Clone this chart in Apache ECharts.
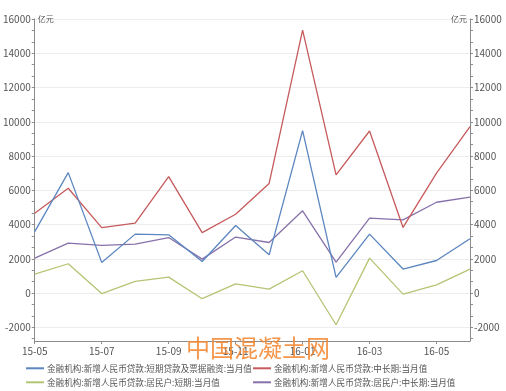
<!DOCTYPE html>
<html>
<head>
<meta charset="utf-8">
<script src="https://cdn.jsdelivr.net/npm/echarts@6/dist/echarts.min.js"></script>
<style>
html,body{margin:0;padding:0;background:#fff;}
#c{width:506px;height:391px;}
</style>
</head>
<body>
<div id="c"></div>
<script>
const months = ['15-05','15-06','15-07','15-08','15-09','15-10','15-11','15-12','16-01','16-02','16-03','16-04','16-05','16-06'];
const seriesNames = [
  '金融机构:新增人民币贷款:短期贷款及票据融资:当月值',
  '金融机构:新增人民币贷款:中长期:当月值',
  '金融机构:新增人民币贷款:居民户:短期:当月值',
  '金融机构:新增人民币贷款:居民户:中长期:当月值'
];
const shortTermBills = [3590, 7030, 1790, 3440, 3400, 1840, 3940, 2230, 9480, 910, 3440, 1400, 1900, 3170];
const midLongTerm = [4660, 6120, 3820, 4080, 6800, 3530, 4600, 6400, 15350, 6900, 9460, 3830, 7000, 9710];
const householdShort = [1100, 1710, -30, 680, 930, -330, 540, 230, 1300, -1850, 2040, -60, 480, 1400];
const householdMidLong = [2040, 2910, 2780, 2860, 3240, 1980, 3270, 2950, 4800, 1810, 4370, 4270, 5300, 5600];
const yMin = -2800, yMax = 16000, yStep = 400, labelStep = 2000, minorPerLabel = 3;
const unitName = '亿元';
const watermark = '中国混凝土网';

const colors = ['#5b86bf', '#c65a5c', '#b3c574', '#8671aa'];
const values = [shortTermBills, midLongTerm, householdShort, householdMidLong];

const chart = echarts.init(document.getElementById('c'), null, {renderer: 'canvas'});
const axisGray = '#8c8c8c';
const labelColor = '#555';
const fontFam = '"Noto Sans CJK SC", "DejaVu Sans", sans-serif';

// tick positions (ascending), every labelStep/minorPerLabel counted down from yMax
const tickValues = [];
for (let v = yMax; v >= yMin - 1e-6; v -= labelStep / minorPerLabel) tickValues.unshift(Math.round(v * 1000) / 1000);
const splitColors = tickValues.slice(0, minorPerLabel).map(v =>
  Math.abs(v % labelStep) < 1e-3 ? '#ececec' : 'rgba(0,0,0,0)');

function yLabel(v) {
  return (Math.abs(v % labelStep) < 1e-6) ? String(v) : '';
}
function yAxisOpt(pos) {
  return {
    type: 'value', position: pos, min: yMin, max: yMax, interval: yStep,
    name: unitName,
    nameLocation: 'end',
    nameGap: 2,
    nameTextStyle: {fontSize: 8, color: labelColor, fontFamily: fontFam, align: pos === 'left' ? 'left' : 'right', verticalAlign: 'bottom', padding: pos === 'left' ? [0,0,-6,3] : [0,3,-6,0]},
    axisLine: {show: true, onZero: false, lineStyle: {color: axisGray, width: 1}},
    axisTick: {show: true, customValues: tickValues, length: 3, lineStyle: {color: axisGray}},
    axisLabel: {formatter: yLabel, color: labelColor, fontSize: 10, fontFamily: fontFam, margin: 4},
    splitLine: {show: pos === 'left', lineStyle: {color: splitColors, width: 1}}
  };
}

const option = {
  backgroundColor: '#fff',
  animation: false,
  grid: {left: 33, right: 36, top: 19, bottom: 50, containLabel: false},
  xAxis: {
    type: 'category', data: months, boundaryGap: false,
    axisLine: {onZero: false, lineStyle: {color: axisGray}},
    axisTick: {show: true, interval: 1, length: 3, lineStyle: {color: axisGray}},
    axisLabel: {interval: 1, color: labelColor, fontSize: 10, fontFamily: fontFam, margin: 5},
    splitLine: {show: false}
  },
  yAxis: [yAxisOpt('left'), yAxisOpt('right')],
  legend: [0,1,2,3].map(i => ({
    data: [seriesNames[i]],
    left: (i % 2 === 0) ? 26 : 253,
    top: (i < 2) ? 364 : 378,
    itemWidth: 18, itemHeight: 2, itemGap: 4,
    icon: 'rect',
    padding: 0,
    textStyle: {fontSize: 8.6, color: labelColor, fontFamily: fontFam, padding: [0,0,0,-2]}
  })),
  series: values.map((d, i) => ({
    name: seriesNames[i], type: 'line', data: d,
    yAxisIndex: 0,
    showSymbol: false, symbol: 'none',
    lineStyle: {color: colors[i], width: 1.3},
    itemStyle: {color: colors[i]},
    z: 10 - i
  })),
  graphic: [{
    type: 'text', left: 186, top: 336, z: 100,
    style: {text: watermark, fill: 'rgba(243,135,50,0.88)', font: '24px "Noto Sans CJK SC", sans-serif'}
  }]
};
chart.setOption(option);
</script>
</body>
</html>
